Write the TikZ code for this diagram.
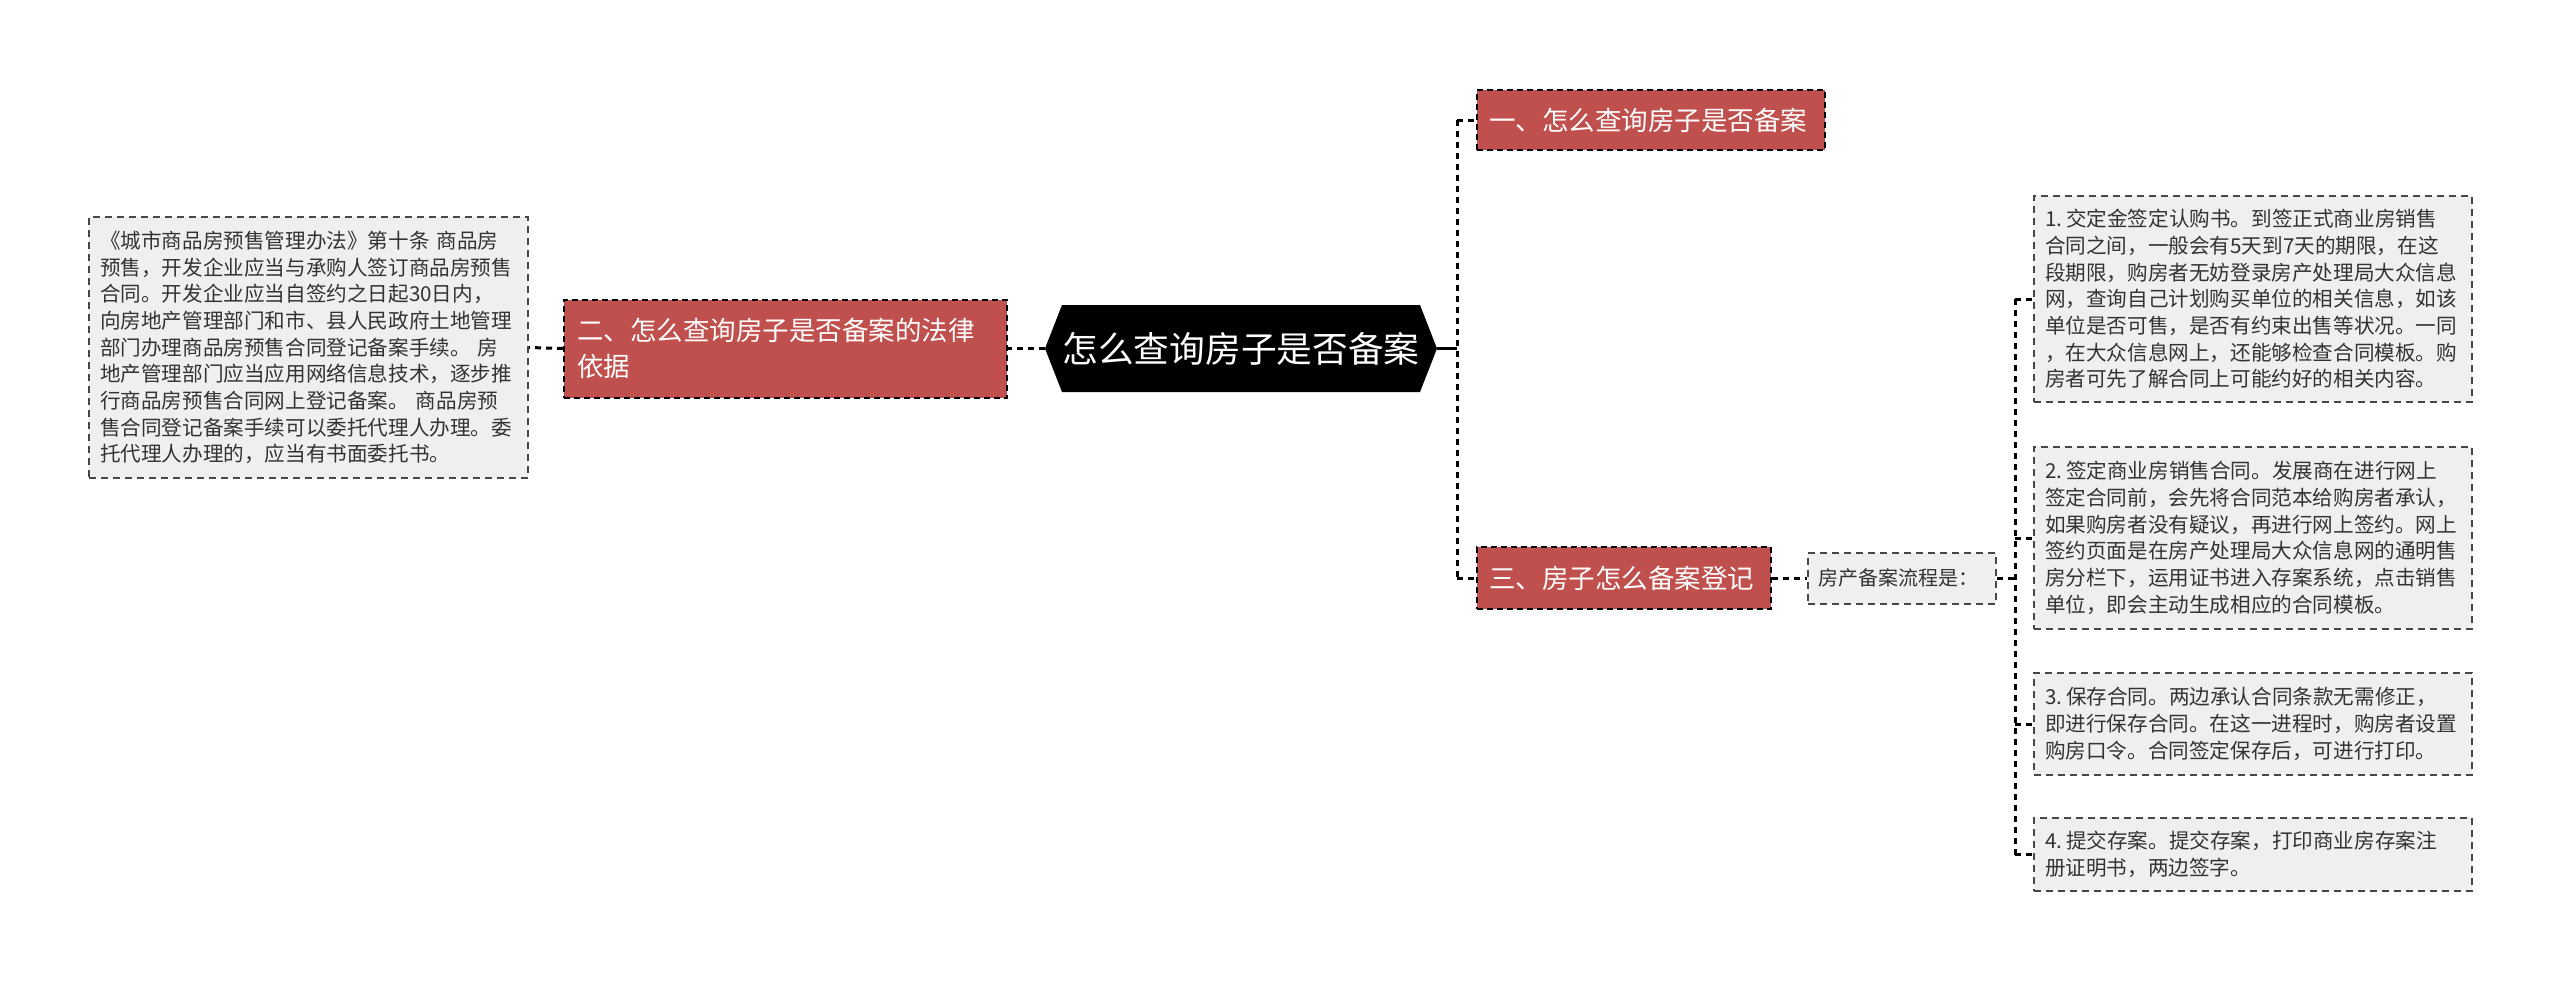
\documentclass[tikz,border=0pt]{standalone}
\usepackage{fontspec}
\setmainfont{Noto Sans CJK SC}
\definecolor{redfill}{RGB}{192,80,77}
\definecolor{greyfill}{RGB}{239,239,239}
\definecolor{greytext}{RGB}{51,51,51}
\definecolor{greyline}{RGB}{70,70,70}
\tikzset{
  conn/.style={line width=3pt, dash pattern=on 6pt off 5pt, black},
  solidconn/.style={line width=3pt, black},
  redbox/.style={draw=black, line width=2pt, dash pattern=on 6pt off 4pt, fill=redfill, text=white,
    font=\fontsize{26.5}{36}\selectfont, align=left, inner xsep=12pt, inner ysep=0pt, anchor=west},
  greybox/.style={draw=greyline, line width=2pt, dash pattern=on 7pt off 5pt, fill=greyfill, text=greytext,
    font=\fontsize{20.6}{26.7}\selectfont, align=left, inner xsep=11pt, inner ysep=0pt, anchor=west},
  rootnode/.style={text=white, font=\fontsize{35.7}{40}\selectfont, minimum width=392pt, minimum height=87pt, inner sep=0pt},
}
\newcommand{\nsp}{\hspace{4pt}}
\begin{document}
\begin{tikzpicture}[x=1pt,y=-1pt]
\fill[white] (0,0) rectangle (2560,983);
\useasboundingbox (0,0) rectangle (2560,983);

% root hexagon
\fill[black] (1045,348.5) -- (1062,305) -- (1420,305) -- (1437,348.5) -- (1420,392) -- (1062,392) -- cycle;
\node[rootnode] (root) at (1241,348.5) {怎么查询房子是否备案};

% level 1
\node[redbox, text width=324pt, minimum height=60pt] (b1) at (1476,120) {一、怎么查询房子是否备案};
\node[redbox, text width=417pt, minimum height=98pt, inner xsep=13pt] (b2) at (563,348.5) {二、怎么查询房子是否备案的法律\\依据};
\node[redbox, text width=270pt, minimum height=62pt] (b3) at (1476,578) {三、房子怎么备案登记};

% left text
\node[greybox, text width=417pt, minimum height=261pt] (law) at (88,347.5) {《城市商品房预售管理办法》第十条\hspace{7pt}商品房\\预售，开发企业应当与承购人签订商品房预售\\合同。开发企业应当自签约之日起30日内，\\向房地产管理部门和市、县人民政府土地管理\\部门办理商品房预售合同登记备案手续。\hspace{7pt}房\\地产管理部门应当应用网络信息技术，逐步推\\行商品房预售合同网上登记备案。\hspace{7pt}商品房预\\售合同登记备案手续可以委托代理人办理。委\\托代理人办理的，应当有书面委托书。};

% flow
\node[greybox, font=\fontsize{20}{24}\selectfont, text width=168pt, inner xsep=10pt, minimum height=51pt] (flow) at (1807,578) {房产备案流程是：};

\node[greybox, text width=416pt, minimum height=206pt] (s1) at (2033,299) {1.\nsp 交定金签定认购书。到签正式商业房销售\\合同之间，一般会有5天到7天的期限，在这\\段期限，购房者无妨登录房产处理局大众信息\\网，查询自己计划购买单位的相关信息，如该\\单位是否可售，是否有约束出售等状况。一同\\，在大众信息网上，还能够检查合同模板。购\\房者可先了解合同上可能约好的相关内容。};
\node[greybox, text width=416pt, minimum height=182pt] (s2) at (2033,538) {2.\nsp 签定商业房销售合同。发展商在进行网上\\签定合同前，会先将合同范本给购房者承认，\\如果购房者没有疑议，再进行网上签约。网上\\签约页面是在房产处理局大众信息网的通明售\\房分栏下，运用证书进入存案系统，点击销售\\单位，即会主动生成相应的合同模板。};
\node[greybox, text width=416pt, minimum height=102pt] (s3) at (2033,724) {3.\nsp 保存合同。两边承认合同条款无需修正，\\即进行保存合同。在这一进程时，购房者设置\\购房口令。合同签定保存后，可进行打印。};
\node[greybox, text width=416pt, minimum height=73pt] (s4) at (2033,854.5) {4.\nsp 提交存案。提交存案，打印商业房存案注\\册证明书，两边签字。};

% connectors right of root
\coordinate (tr) at (1457,348.5);
\coordinate (trtop) at (1457,120);
\coordinate (trbot) at (1457,578);
\draw[solidconn] (root.east) -- (tr);
\draw[conn] (trtop) -- (trbot);
\draw[conn] (trtop) -- (b1.west);
\draw[conn] (trbot) -- (b3.west);

% left side
\draw[conn] (root.west) -- (b2.east);
\draw[conn] (b2.west) -- (law.east);

% flow
\draw[conn] (b3.east) -- (flow.west);
\coordinate (br) at (2015,578);
\coordinate (brtop) at (2015,299);
\coordinate (brbot) at (2015,854.5);
\coordinate (c2) at (2015,538);
\coordinate (c3) at (2015,724);
\draw[conn] (flow.east) -- (br);
\draw[conn] (brtop) -- (brbot);
\draw[conn] (brtop) -- (s1.west);
\draw[conn] (c2) -- (s2.west);
\draw[conn] (c3) -- (s3.west);
\draw[conn] (brbot) -- (s4.west);
\end{tikzpicture}
\end{document}
